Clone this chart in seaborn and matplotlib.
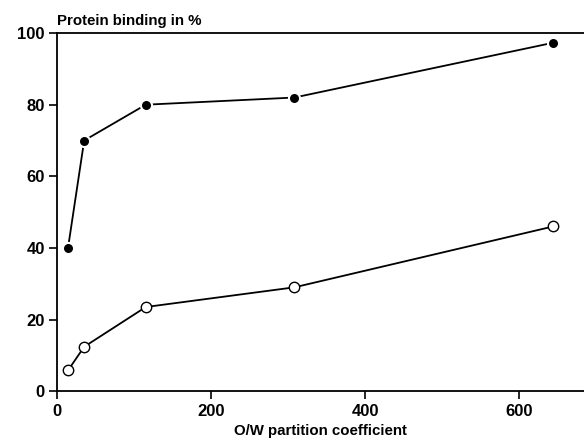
import matplotlib
matplotlib.use("Agg")
import matplotlib.pyplot as plt
import seaborn as sns
import numpy as np
import pandas as pd

# Values
partition = [14, 35, 115, 308, 644]
bound_filled = [40, 70, 80, 82, 97.3]
bound_open = [5.8, 12.4, 23.5, 29, 46]

sns.set_style("ticks")
plt.rcParams['font.family'] = ['Liberation Sans', 'DejaVu Sans']
plt.rcParams['font.weight'] = 'bold'
plt.rcParams['text.color'] = 'black'
plt.rcParams['xtick.color'] = 'black'
plt.rcParams['ytick.color'] = 'black'

fig = plt.figure(figsize=(5.84, 4.41), dpi=100)
ax = fig.add_axes([0.098, 0.113, 0.902, 0.812])

sns.lineplot(x=partition, y=bound_filled, ax=ax, color='black', linewidth=1.3,
             marker='o', markersize=8, markerfacecolor='black',
             markeredgecolor='white', markeredgewidth=1.5)
sns.lineplot(x=partition, y=bound_open, ax=ax, color='black', linewidth=1.3,
             marker='o', markersize=7.5, markerfacecolor='white',
             markeredgecolor='black', markeredgewidth=1.0)

ax.set_xlim(0, 684)
ax.set_ylim(0, 100)
ax.set_xticks([0, 200, 400, 600])
ax.set_yticks([0, 20, 40, 60, 80, 100])
ax.tick_params(axis='both', labelsize=12, width=1.2, length=6, pad=3,
               direction='out', colors='black')
for lbl in ax.get_xticklabels() + ax.get_yticklabels():
    lbl.set_fontweight('bold')

ax.spines['right'].set_visible(False)
for s in ['left', 'bottom', 'top']:
    ax.spines[s].set_linewidth(1.3)
    ax.spines[s].set_color('black')

ax.set_xlabel("O/W partition coefficient", fontsize=10.8, fontweight='bold',
              labelpad=4, color='black')
ax.set_ylabel("")
fig.text(0.098, 0.952, "Protein binding in %", fontsize=10.8, fontweight='bold',
         ha='left', va='center', color='black')

fig.savefig("out.png", dpi=100)
